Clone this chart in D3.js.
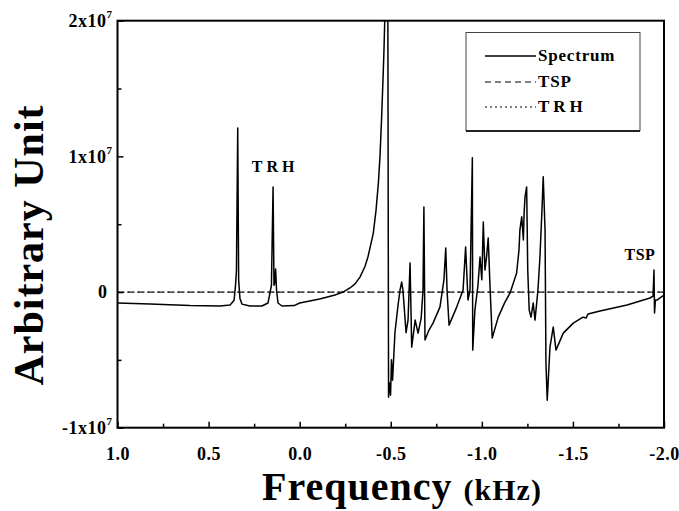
<!DOCTYPE html>
<html>
<head>
<meta charset="utf-8">
<script src="https://d3js.org/d3.v7.min.js"></script>
<style>
body { margin: 0; background: #fff; }
text { font-family: "Liberation Serif", "Times New Roman", serif; font-weight: bold; fill: #000; }
</style>
</head>
<body>
<script>
// frequency (kHz), axis runs from 1.0 down to -2.0
var freq = [1.000, 0.822, 0.602, 0.437, 0.382, 0.360, 0.352, 0.347, 0.340, 0.335,
    0.328, 0.317, 0.273, 0.207, 0.174, 0.163, 0.155, 0.146, 0.141, 0.137,
    0.132, 0.127, 0.119, 0.097, 0.030, 0.000, -0.110, -0.194, -0.238, -0.276,
    -0.304, -0.331, -0.359, -0.375, -0.392, -0.404, -0.419, -0.432, -0.441, -0.450,
    -0.457, -0.463, -0.468, -0.473, -0.484, -0.488, -0.493, -0.499,
    -0.504, -0.510, -0.523, -0.540, -0.551, -0.560, -0.567, -0.584, -0.595, -0.606,
    -0.615, -0.634, -0.650, -0.667, -0.677, -0.682, -0.688, -0.710, -0.732, -0.770,
    -0.792, -0.802, -0.809, -0.820, -0.862, -0.897, -0.911, -0.924, -0.935, -0.948,
    -0.950, -0.962, -0.979, -0.990, -1.000, -1.008, -1.017, -1.026, -1.035, -1.045,
    -1.057, -1.090, -1.125, -1.155, -1.191, -1.204, -1.209, -1.219, -1.228, -1.232,
    -1.237, -1.246, -1.252, -1.260, -1.270, -1.282, -1.292, -1.308, -1.319, -1.330,
    -1.337, -1.347, -1.352, -1.359, -1.374, -1.392, -1.407, -1.447, -1.502, -1.555,
    -1.572, -1.583, -1.649, -1.797, -1.923, -1.940, -1.945, -1.948, -1.953, -1.961,
    -2.000];
// spectrum, in units of 10^6 (arbitrary)
var spectrum = [-0.81, -0.89, -1.00, -1.03, -0.96, -0.60, 0.50, 1.60, 12.1, 0.90,
    -0.45, -0.89, -1.03, -1.03, -0.81, -0.07, 0.50, 7.75, 0.50, 0.66,
    1.70, 0.15, -0.81, -1.03, -1.00, -0.81, -0.52, -0.22, 0.00, 0.30,
    0.60, 1.10, 1.90, 2.60, 3.60, 4.33, 6.00, 8.02, 10.0, 12.9,
    15.5, 17.9, 20.5, 21.5, 21.5, -7.75, -6.70, -7.60,
    -5.00, -6.50, -3.00, -0.96, 0.15, 0.74, 0.15, -3.00, -2.07, 2.14,
    -4.06, -2.07, -3.03, -1.92, 0.15, 6.27, -3.54, -2.80, -2.29, -1.11,
    0.89, 3.25, 0.15, -2.44, -1.11, 0.15, 3.32, -0.59, 0.15, 9.89,
    -4.28, -1.33, 0.52, 2.58, 0.90, 5.17, 1.62, 2.60, 3.99, 0.37,
    -3.39, -1.85, -0.80, -0.07, 1.40, 3.10, 4.58, 5.54, 3.84, 5.80,
    7.01, 7.75, 1.62, -1.33, -1.85, -0.81, -2.07, 0.15, 2.58, 6.00,
    8.49, 4.58, -5.24, -7.97, -4.06, -2.58, -4.28, -3.03, -2.29, -1.85,
    -1.92, -1.62, -1.40, -0.96, -0.44, -0.30, 1.62, -1.55, -0.59, -0.59,
    -0.22];
// reference lines
var tspFreq = [1.0, -2.0];
var tsp = [0, 0];
var trhFreq = [1.0, -2.0];
var trh = [0, 0];

var xTicks = [1.0, 0.5, 0.0, -0.5, -1.0, -1.5, -2.0];
var xMinor = [0.75, 0.25, -0.25, -0.75, -1.25, -1.75];
var yTicks = [-10, 0, 10, 20];
var yMinor = [-5, 5, 15];
var yTickBase = ["-1x10", "0", "1x10", "2x10"];
var yTickExp = ["7", "", "7", "7"];
var legendNames = ["Spectrum", "TSP", "TRH"];
var peakNames = ["TRH", "TSP"];
var peakFreq = [0.135, -1.868];
var peakValue = [8.86, 2.36];

var width = 679, height = 511;
var pLeft = 117.5, pRight = 664, pTop = 20.7, pBottom = 427.7;

var x = d3.scaleLinear().domain([1.0, -2.0]).range([pLeft, pRight]);
var y = d3.scaleLinear().domain([-10, 20]).range([pBottom, pTop]);

var svg = d3.select("body").append("svg")
    .attr("width", width)
    .attr("height", height);

svg.append("defs").append("clipPath").attr("id", "clip")
    .append("rect")
    .attr("x", pLeft).attr("y", pTop)
    .attr("width", pRight - pLeft).attr("height", pBottom - pTop);

var line = d3.line().x(d => x(d[0])).y(d => y(d[1]));

var plot = svg.append("g").attr("clip-path", "url(#clip)");

plot.append("path")
    .datum(d3.zip(tspFreq, tsp))
    .attr("d", line)
    .attr("fill", "none")
    .attr("stroke", "#222")
    .attr("stroke-width", 1.2)
    .attr("stroke-dasharray", "6,4");

plot.append("path")
    .datum(d3.zip(trhFreq, trh))
    .attr("d", line)
    .attr("fill", "none")
    .attr("stroke", "#222")
    .attr("stroke-width", 1.2)
    .attr("stroke-dasharray", "2,3");

plot.append("path")
    .datum(d3.zip(freq, spectrum))
    .attr("d", line)
    .attr("fill", "none")
    .attr("stroke", "#000")
    .attr("stroke-width", 1.5)
    .attr("stroke-linejoin", "round");

// axes, ticks pointing inward
var xAx = svg.append("g")
    .attr("transform", "translate(0," + pBottom + ")")
    .call(d3.axisBottom(x).tickValues(xTicks).tickSize(-6).tickSizeOuter(0)
        .tickFormat(d => d.toFixed(1)));
var xAxMinor = svg.append("g")
    .attr("transform", "translate(0," + pBottom + ")")
    .call(d3.axisBottom(x).tickValues(xMinor).tickSize(-4).tickFormat(""));
var yAx = svg.append("g")
    .attr("transform", "translate(" + pLeft + ",0)")
    .call(d3.axisLeft(y).tickValues(yTicks).tickSize(-6).tickSizeOuter(0));
var yAxMinor = svg.append("g")
    .attr("transform", "translate(" + pLeft + ",0)")
    .call(d3.axisLeft(y).tickValues(yMinor).tickSize(-4).tickFormat(""));

svg.selectAll(".domain").remove();
svg.selectAll(".tick line").attr("stroke", "#000").attr("stroke-width", 1.5);

xAx.selectAll(".tick text")
    .attr("y", 32)
    .attr("dy", 0)
    .attr("font-family", null)
    .attr("font-size", null)
    .style("font-size", "18px")
    .style("letter-spacing", "0.5px");

yAx.selectAll(".tick text").each(function(d) {
    var i = yTicks.indexOf(d);
    var t = d3.select(this).text(null)
        .attr("x", d === 0 ? -10 : -5)
        .attr("dy", "0.32em")
        .attr("font-family", null)
        .attr("font-size", null)
        .style("font-size", "18px")
        .style("letter-spacing", "0.5px");
    t.append("tspan").text(yTickBase[i]);
    if (yTickExp[i]) {
        t.append("tspan").attr("dy", -9).style("font-size", "11px").text(yTickExp[i]);
    }
});

svg.append("rect")
    .attr("x", pLeft).attr("y", pTop)
    .attr("width", pRight - pLeft).attr("height", pBottom - pTop)
    .attr("fill", "none")
    .attr("stroke", "#000")
    .attr("stroke-width", 2);

// peak annotations
svg.selectAll(".peak")
    .data(peakNames)
    .join("text")
    .attr("class", "peak")
    .attr("x", (d, i) => x(peakFreq[i]))
    .attr("y", (d, i) => y(peakValue[i]))
    .attr("text-anchor", "middle")
    .style("font-size", "16px")
    .style("letter-spacing", d => d === "TRH" ? "4px" : "0.5px")
    .text(d => d);

// legend
var legend = svg.append("g");
legend.append("rect")
    .attr("x", 466).attr("y", 32.5)
    .attr("width", 174).attr("height", 98)
    .attr("fill", "#fff")
    .attr("stroke", "#444")
    .attr("stroke-width", 1);
legend.append("line")
    .attr("x1", 466).attr("x2", 640)
    .attr("y1", 131).attr("y2", 131)
    .attr("stroke", "#222").attr("stroke-width", 2);
var dashes = ["none", "6,4", "2,3"];
var legendY = [56, 82, 107];
legend.selectAll(".lg-line")
    .data(legendNames)
    .join("line")
    .attr("class", "lg-line")
    .attr("x1", 485).attr("x2", 536)
    .attr("y1", (d, i) => legendY[i]).attr("y2", (d, i) => legendY[i])
    .attr("stroke", "#000")
    .attr("stroke-width", (d, i) => i === 0 ? 1.5 : 1.2)
    .attr("stroke-dasharray", (d, i) => dashes[i]);
legend.selectAll(".lg-text")
    .data(legendNames)
    .join("text")
    .attr("class", "lg-text")
    .attr("x", 538)
    .attr("y", (d, i) => legendY[i] + 5)
    .style("font-size", "17px")
    .style("letter-spacing", d => d === "TRH" ? "4px" : "0.8px")
    .text(d => d);

// axis titles
svg.append("text")
    .attr("transform", "translate(43,245) rotate(-90)")
    .attr("text-anchor", "middle")
    .style("font-size", "42px")
    .style("letter-spacing", "1px")
    .text("Arbitrary Unit");

var xt = svg.append("text")
    .attr("x", 402).attr("y", 500)
    .attr("text-anchor", "middle")
    .style("letter-spacing", "1px");
xt.append("tspan").style("font-size", "40px").text("Frequency ");
xt.append("tspan").style("font-size", "30px").text("(kHz)");
</script>
</body>
</html>
